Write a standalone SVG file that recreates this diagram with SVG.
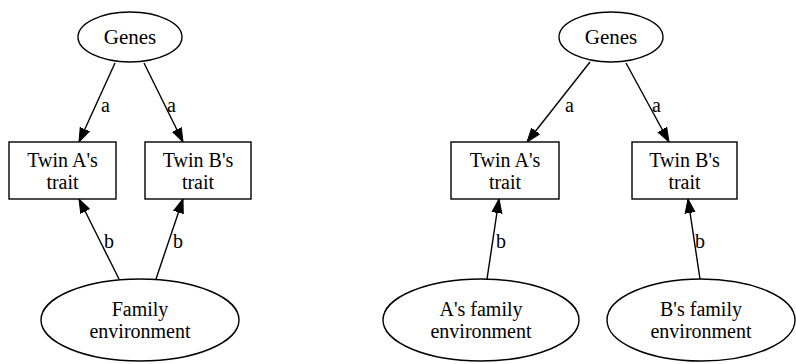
<svg xmlns="http://www.w3.org/2000/svg" width="796" height="364" viewBox="0 0 796 364">
<defs>
<marker id="arr" markerUnits="userSpaceOnUse" markerWidth="16" markerHeight="12" refX="14" refY="5" orient="auto" viewBox="0 0 16 10">
<path d="M0,0 L14,5 L0,10 z" fill="#000" stroke="#000" stroke-width="1"/>
</marker>
</defs>
<rect width="796" height="364" fill="#fff"/>
<g id="edges" fill="none" stroke="#000" stroke-width="1.4" marker-end="url(#arr)">
<line x1="115" y1="63" x2="79" y2="142"/>
<line x1="144" y1="63" x2="183" y2="142"/>
<line x1="119" y1="279" x2="79" y2="199"/>
<line x1="156" y1="279" x2="183" y2="199"/>
<line x1="590" y1="62" x2="527" y2="142"/>
<line x1="626" y1="63" x2="669" y2="142"/>
<line x1="487" y1="279" x2="499" y2="199"/>
<line x1="700" y1="279" x2="688" y2="199"/>
</g>
<g id="edge-labels" fill="#000">
<text font-family="Times New Roman" font-size="20" x="101" y="112">a</text>
<text font-family="Times New Roman" font-size="20" x="167" y="112">a</text>
<text font-family="Times New Roman" font-size="20" x="104" y="248">b</text>
<text font-family="Times New Roman" font-size="20" x="173" y="248">b</text>
<text font-family="Times New Roman" font-size="20" x="565" y="112">a</text>
<text font-family="Times New Roman" font-size="20" x="652" y="112">a</text>
<text font-family="Times New Roman" font-size="20" x="496" y="248">b</text>
<text font-family="Times New Roman" font-size="20" x="695" y="248">b</text>
</g>
<g id="genes1"><ellipse fill="#fff" stroke="#000" stroke-width="1.4" cx="130" cy="37" rx="52" ry="25"/><text text-anchor="middle" font-family="Times New Roman" font-size="21" x="130" y="44">Genes</text></g>
<g id="twinA1"><rect fill="#fff" stroke="#000" stroke-width="1.4" x="9" y="142" width="107" height="57"/><text text-anchor="middle" font-family="Times New Roman" font-size="20" x="62.5" y="167">Twin A's</text><text text-anchor="middle" font-family="Times New Roman" font-size="20" x="62.5" y="189">trait</text></g>
<g id="twinB1"><rect fill="#fff" stroke="#000" stroke-width="1.4" x="145" y="142" width="106" height="57"/><text text-anchor="middle" font-family="Times New Roman" font-size="20" x="198" y="167">Twin B's</text><text text-anchor="middle" font-family="Times New Roman" font-size="20" x="198" y="189">trait</text></g>
<g id="family1"><ellipse fill="#fff" stroke="#000" stroke-width="1.4" cx="140" cy="320" rx="99" ry="41"/><text text-anchor="middle" font-family="Times New Roman" font-size="20" x="140" y="316">Family</text><text text-anchor="middle" font-family="Times New Roman" font-size="20" x="140" y="338">environment</text></g>
<g id="genes2"><ellipse fill="#fff" stroke="#000" stroke-width="1.4" cx="611" cy="37" rx="52" ry="25"/><text text-anchor="middle" font-family="Times New Roman" font-size="21" x="611" y="44">Genes</text></g>
<g id="twinA2"><rect fill="#fff" stroke="#000" stroke-width="1.4" x="451" y="142" width="108" height="57"/><text text-anchor="middle" font-family="Times New Roman" font-size="20" x="505" y="167">Twin A's</text><text text-anchor="middle" font-family="Times New Roman" font-size="20" x="505" y="189">trait</text></g>
<g id="twinB2"><rect fill="#fff" stroke="#000" stroke-width="1.4" x="632" y="142" width="105" height="57"/><text text-anchor="middle" font-family="Times New Roman" font-size="20" x="684.5" y="167">Twin B's</text><text text-anchor="middle" font-family="Times New Roman" font-size="20" x="684.5" y="189">trait</text></g>
<g id="envA2"><ellipse fill="#fff" stroke="#000" stroke-width="1.4" cx="481" cy="320" rx="98" ry="41"/><text text-anchor="middle" font-family="Times New Roman" font-size="20" x="481" y="316">A's family</text><text text-anchor="middle" font-family="Times New Roman" font-size="20" x="481" y="338">environment</text></g>
<g id="envB2"><ellipse fill="#fff" stroke="#000" stroke-width="1.4" cx="701" cy="320" rx="94" ry="41"/><text text-anchor="middle" font-family="Times New Roman" font-size="20" x="701" y="316">B's family</text><text text-anchor="middle" font-family="Times New Roman" font-size="20" x="701" y="338">environment</text></g>
</svg>
